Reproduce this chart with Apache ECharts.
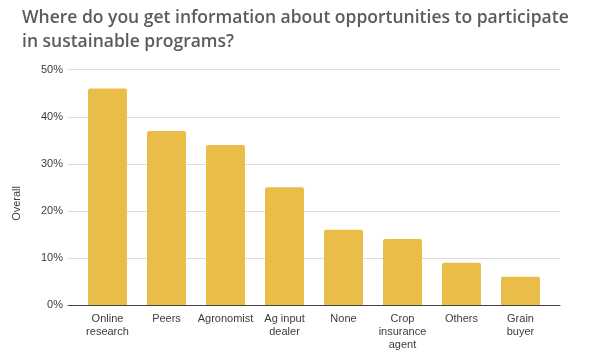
<!DOCTYPE html>
<html>
<head>
<meta charset="utf-8">
<script src="https://cdn.jsdelivr.net/npm/echarts@6/dist/echarts.min.js"></script>
<style>html,body{margin:0;padding:0;background:#fff}#c{width:616px;height:361px}</style>
</head>
<body>
<div id="c"></div>
<script>
const categories = ["Online\nresearch", "Peers", "Agronomist", "Ag input\ndealer", "None", "Crop\ninsurance\nagent", "Others", "Grain\nbuyer"];
const overall = [46, 37, 34, 25, 16, 14, 9, 6];
const yTicks = [0, 10, 20, 30, 40, 50];
const titleText = "Where do you get information about opportunities to participate\nin sustainable programs?";
const yAxisTitle = "Overall";

const chart = echarts.init(document.getElementById('c'), null, {renderer: 'canvas'});
chart.setOption({
  animation: false,
  backgroundColor: '#ffffff',
  title: {
    text: titleText,
    left: 17, top: 1,
    textStyle: {fontFamily: 'Open Sans', fontWeight: 600, fontSize: 17.5, color: '#5b5b5b', lineHeight: 24}
  },
  graphic: [{
    type: 'text', left: 11, top: 186, rotation: Math.PI / 2,
    style: {text: yAxisTitle, font: '11px "Liberation Sans"', fill: '#3c3c3c'}
  }],
  grid: [
    {left: 78, right: 66, top: 69.7, bottom: 56},
    {left: 68, right: 56, top: 69.7, bottom: 56}
  ],
  xAxis: [
    {type: 'category', gridIndex: 0, data: categories,
     axisLine: {show: false}, axisTick: {show: false},
     axisLabel: {fontFamily: 'Liberation Sans', fontSize: 11, color: '#3c3c3c', margin: 7, lineHeight: 13, interval: 0}},
    {type: 'value', gridIndex: 1, min: 0, max: 1, show: true,
     axisLine: {show: true, lineStyle: {color: '#444', width: 1}}, axisTick: {show: false},
     axisLabel: {show: false}, splitLine: {show: false}}
  ],
  yAxis: [
    {type: 'value', gridIndex: 0, min: 0, max: 50, interval: 10, show: false},
    {type: 'value', gridIndex: 1, min: yTicks[0], max: yTicks[yTicks.length - 1], interval: 10,
     axisLine: {show: false}, axisTick: {show: false},
     axisLabel: {formatter: '{value}%', fontFamily: 'Liberation Sans', fontSize: 11, color: '#3c3c3c', margin: 5},
     splitLine: {lineStyle: {color: '#dcdcdc', width: 1}}}
  ],
  series: [{
    type: 'bar', xAxisIndex: 0, yAxisIndex: 0,
    data: overall, barCategoryGap: '34%',
    itemStyle: {color: '#E9BD48', borderRadius: [2, 2, 0, 0]},
    z: 3
  }]
});
</script>
</body>
</html>
